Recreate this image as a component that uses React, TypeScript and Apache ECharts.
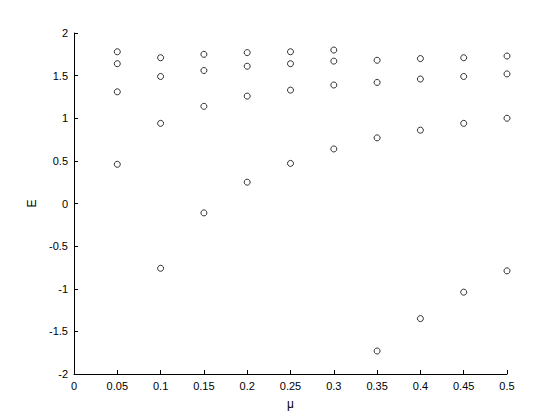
import React, { useEffect, useRef } from "react";
import * as echarts from "echarts";

const muValues = [0.05, 0.1, 0.15, 0.2, 0.25, 0.3, 0.35, 0.4, 0.45, 0.5];
const level1 = [1.78, 1.71, 1.75, 1.77, 1.78, 1.8, 1.68, 1.7, 1.71, 1.73];
const level2 = [1.64, 1.49, 1.56, 1.61, 1.64, 1.67, 1.42, 1.46, 1.49, 1.52];
const level3 = [1.31, 0.94, 1.14, 1.26, 1.33, 1.39, 0.77, 0.86, 0.94, 1.0];
const level4 = [0.46, -0.76, -0.11, 0.25, 0.47, 0.64, -1.73, -1.35, -1.04, -0.79];
const levels = [level1, level2, level3, level4];

export default function App() {
  const ref = useRef<HTMLDivElement>(null);
  useEffect(() => {
    if (!ref.current) return;
    const chart = echarts.init(ref.current, null, { renderer: "svg" });
    const data: number[][] = [];
    levels.forEach((lv) => lv.forEach((v, i) => data.push([muValues[i], v])));
    const font = "'Liberation Sans', Arial, Helvetica, sans-serif";
    chart.setOption({
      animation: false,
      backgroundColor: "#ffffff",
      grid: { left: 74, right: 53, top: 33, bottom: 46, containLabel: false },
      xAxis: {
        type: "value",
        min: 0,
        max: 0.5,
        interval: 0.05,
        name: "μ",
        nameLocation: "middle",
        nameGap: 24,
        nameTextStyle: { color: "#000", fontSize: 12, fontFamily: font },
        axisLine: { onZero: false, lineStyle: { color: "#000", width: 1 } },
        axisTick: { inside: true, length: 4, lineStyle: { color: "#000" } },
        axisLabel: {
          color: "#000",
          fontSize: 11,
          fontFamily: font,
          margin: 6,
          formatter: (v: number) => String(Math.round(v * 100) / 100),
        },
        splitLine: { show: false },
      },
      yAxis: {
        type: "value",
        min: -2,
        max: 2,
        interval: 0.5,
        name: "E",
        nameLocation: "middle",
        nameGap: 36,
        nameTextStyle: { color: "#000", fontSize: 12, fontFamily: font },
        axisLine: { show: true, onZero: false, lineStyle: { color: "#000", width: 1 } },
        axisTick: { show: true, inside: true, length: 4, lineStyle: { color: "#000" } },
        axisLabel: { color: "#000", fontSize: 11, fontFamily: font, margin: 6 },
        splitLine: { show: false },
      },
      series: [
        {
          type: "scatter",
          data,
          symbol: "circle",
          symbolSize: 6,
          itemStyle: { color: "#ffffff", borderColor: "#000000", borderWidth: 1 },
        },
      ],
    });
    return () => chart.dispose();
  }, []);
  return (
    <div
      ref={ref}
      style={{ position: "absolute", left: 0, top: 0, width: 560, height: 420, background: "#fff" }}
    />
  );
}
